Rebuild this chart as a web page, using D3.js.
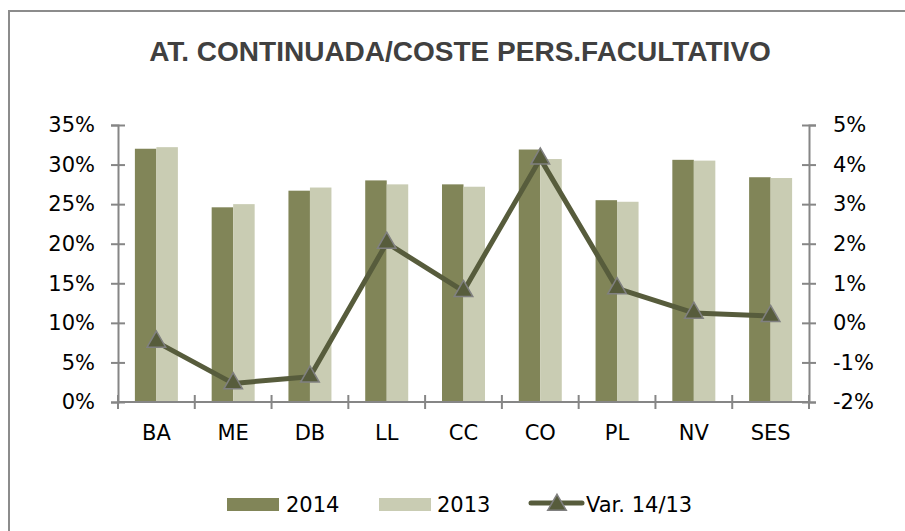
<!DOCTYPE html>
<meta charset="utf-8">
<style>
body { margin: 0; background: #fff; }
text { font-family: "DejaVu Sans", sans-serif; fill: #000; }
.title { font-family: "Liberation Sans", Arial, sans-serif; font-weight: bold; fill: #404040; }
.axis path, .axis line { stroke: #868686; stroke-width: 2; }
</style>
<body>
<script src="https://cdn.jsdelivr.net/npm/d3@7"></script>
<script>
// data
var cats = ["BA", "ME", "DB", "LL", "CC", "CO", "PL", "NV", "SES"];
var v2014 = [32.0, 24.6, 26.7, 28.0, 27.5, 31.9, 25.5, 30.6, 28.4];
var v2013 = [32.2, 25.0, 27.1, 27.5, 27.2, 30.7, 25.3, 30.5, 28.3];
var varPct = [-0.48, -1.53, -1.36, 2.02, 0.8, 4.15, 0.87, 0.25, 0.17];
var leftTicks = [0, 5, 10, 15, 20, 25, 30, 35];
var rightTicks = [-2, -1, 0, 1, 2, 3, 4, 5];

var W = 905, H = 531;
var pLeft = 118, pRight = 809, pTop = 125, pBottom = 402;
var fs = "21px";

var svg = d3.select("body").append("svg")
    .attr("width", W)
    .attr("height", H);

// frame
svg.append("rect")
    .attr("x", 9).attr("y", 11)
    .attr("width", W + 20).attr("height", H + 20)
    .attr("fill", "none")
    .attr("stroke", "#8c8c8c")
    .attr("stroke-width", 2);

svg.append("text")
    .attr("class", "title")
    .attr("x", 460).attr("y", 61)
    .attr("text-anchor", "middle")
    .style("font-size", "28px")
    .text("AT. CONTINUADA/COSTE PERS.FACULTATIVO");

// scales
var x0 = d3.scaleBand().domain(cats).range([pLeft, pRight])
    .paddingInner(0.44).paddingOuter(0.22);
var x1 = d3.scaleBand().domain(["2014", "2013"]).range([0, x0.bandwidth()]);
var yL = d3.scaleLinear().domain([0, 35]).range([pBottom, pTop]);
var yR = d3.scaleLinear().domain([-2, 5]).range([pBottom, pTop]);

var colors = {"2014": "#818558", "2013": "#c9ccb3"};

// bars
var groups = svg.selectAll(".grp")
    .data(cats)
  .enter().append("g")
    .attr("class", "grp")
    .attr("transform", function(d) { return "translate(" + x0(d) + ",0)"; });

groups.append("rect")
    .attr("x", x1("2014"))
    .attr("width", x1.bandwidth())
    .attr("y", function(d, i) { return yL(v2014[i]); })
    .attr("height", function(d, i) { return pBottom - yL(v2014[i]); })
    .attr("fill", colors["2014"]);

groups.append("rect")
    .attr("x", x1("2013"))
    .attr("width", x1.bandwidth())
    .attr("y", function(d, i) { return yL(v2013[i]); })
    .attr("height", function(d, i) { return pBottom - yL(v2013[i]); })
    .attr("fill", colors["2013"]);

// left axis
var gl = svg.append("g")
    .attr("class", "axis")
    .attr("transform", "translate(" + pLeft + ",0)")
    .call(d3.axisLeft(yL).tickValues(leftTicks).tickSizeOuter(0).tickSize(7).tickPadding(16)
      .tickFormat(function(d) { return d + "%"; }));
gl.selectAll(".tick line").attr("x1", 7);
gl.selectAll(".tick text").style("font-size", fs).style("font-family", "DejaVu Sans").attr("fill", "#000");

// right axis
var gr = svg.append("g")
    .attr("class", "axis")
    .attr("transform", "translate(" + pRight + ",0)")
    .call(d3.axisRight(yR).tickValues(rightTicks).tickSizeOuter(0).tickSize(7).tickPadding(17)
      .tickFormat(function(d) { return d + "%"; }));
gr.selectAll(".tick line").attr("x1", -7);
gr.selectAll(".tick text").style("font-size", fs).style("font-family", "DejaVu Sans").attr("fill", "#000");

// bottom axis: line, boundary ticks, labels
svg.append("line")
    .attr("x1", pLeft).attr("x2", pRight)
    .attr("y1", pBottom).attr("y2", pBottom)
    .attr("stroke", "#868686").attr("stroke-width", 2);

var bounds = d3.range(cats.length + 1).map(function(i) { return pLeft + i * x0.step(); });
svg.selectAll(".btick")
    .data(bounds)
  .enter().append("line")
    .attr("x1", function(d) { return d; }).attr("x2", function(d) { return d; })
    .attr("y1", pBottom - 7).attr("y2", pBottom + 7)
    .attr("stroke", "#868686").attr("stroke-width", 2);

svg.selectAll(".xlab")
    .data(cats)
  .enter().append("text")
    .attr("x", function(d) { return x0(d) + x0.bandwidth() / 2; })
    .attr("y", 440)
    .attr("text-anchor", "middle")
    .style("font-size", fs)
    .text(function(d) { return d; });

// variation line
var pts = cats.map(function(c, i) { return [x0(c) + x0.bandwidth() / 2, yR(varPct[i])]; });
svg.append("path")
    .attr("d", d3.line()(pts))
    .attr("fill", "none")
    .attr("stroke", "#575c3c")
    .attr("stroke-width", 5)
    .attr("stroke-linejoin", "round");

var tri = d3.symbol().type(d3.symbolTriangle).size(150);
svg.selectAll(".mk")
    .data(pts)
  .enter().append("path")
    .attr("d", tri)
    .attr("transform", function(d) { return "translate(" + d[0] + "," + d[1] + ")"; })
    .attr("fill", "#575c3c")
    .attr("stroke", "#808080")
    .attr("stroke-width", 1.5);

// legend
var ly = 504;
svg.append("rect").attr("x", 227).attr("y", ly - 6).attr("width", 52).attr("height", 13).attr("fill", colors["2014"]);
svg.append("text").attr("x", 286).attr("y", ly + 8).style("font-size", fs).text("2014");
svg.append("rect").attr("x", 379).attr("y", ly - 6).attr("width", 52).attr("height", 13).attr("fill", colors["2013"]);
svg.append("text").attr("x", 437).attr("y", ly + 8).style("font-size", fs).text("2013");
svg.append("line").attr("x1", 531).attr("x2", 582).attr("y1", ly - 1).attr("y2", ly - 1)
    .attr("stroke", "#575c3c").attr("stroke-width", 5).attr("stroke-linecap", "round");
svg.append("path").attr("d", tri).attr("transform", "translate(557," + (ly + 1) + ")")
    .attr("fill", "#575c3c").attr("stroke", "#808080").attr("stroke-width", 1.5);
svg.append("text").attr("x", 586).attr("y", ly + 8).style("font-size", fs).text("Var. 14/13");
</script>
</body>
